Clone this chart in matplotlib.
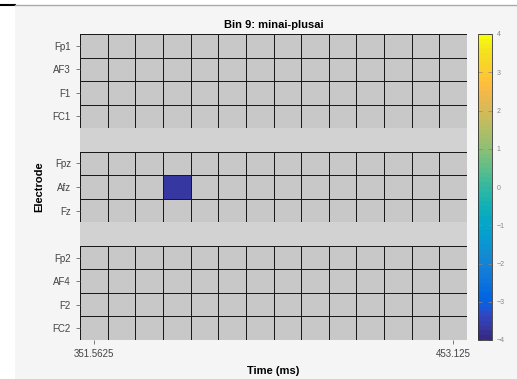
import numpy as np
import matplotlib
matplotlib.use("Agg")
import matplotlib.pyplot as plt
from matplotlib.colors import ListedColormap
from matplotlib.patches import Rectangle
from matplotlib.lines import Line2D

plt.rcParams['font.family'] = ['Liberation Sans', 'DejaVu Sans']

# ---- data ----
title = "Bin 9: minai-plusai"
groups = [["Fp1", "AF3", "F1", "FC1"],
          ["Fpz", "Afz", "Fz"],
          ["Fp2", "AF4", "F2", "FC2"]]
t_start = 351.5625
t_step = 7.8125
n_times = 14
times = t_start + t_step * np.arange(n_times)
# significant cells: (electrode, time, value); all other cells non-significant (grey)
sig_electrodes = ["Afz"]
sig_times = [375.0]
sig_values = [-3.7]
clim = (-4, 4)

# ---- parula colormap (MATLAB, 64 entries) ----
parula_data = [
    (0.2081, 0.1663, 0.5292), (0.2116, 0.1898, 0.5777), (0.2123, 0.2138, 0.6270),
    (0.2081, 0.2386, 0.6771), (0.1959, 0.2645, 0.7279), (0.1707, 0.2919, 0.7792),
    (0.1253, 0.3242, 0.8303), (0.0591, 0.3598, 0.8683), (0.0117, 0.3875, 0.8820),
    (0.0060, 0.4086, 0.8828), (0.0165, 0.4266, 0.8786), (0.0329, 0.4430, 0.8720),
    (0.0498, 0.4586, 0.8641), (0.0629, 0.4737, 0.8554), (0.0723, 0.4887, 0.8467),
    (0.0779, 0.5040, 0.8384), (0.0793, 0.5200, 0.8312), (0.0749, 0.5375, 0.8263),
    (0.0641, 0.5570, 0.8240), (0.0488, 0.5772, 0.8228), (0.0343, 0.5966, 0.8199),
    (0.0265, 0.6137, 0.8135), (0.0239, 0.6287, 0.8038), (0.0231, 0.6418, 0.7913),
    (0.0228, 0.6535, 0.7768), (0.0267, 0.6642, 0.7607), (0.0384, 0.6743, 0.7436),
    (0.0590, 0.6838, 0.7254), (0.0843, 0.6928, 0.7062), (0.1133, 0.7015, 0.6859),
    (0.1453, 0.7098, 0.6646), (0.1801, 0.7177, 0.6424), (0.2178, 0.7250, 0.6193),
    (0.2586, 0.7317, 0.5954), (0.3022, 0.7376, 0.5712), (0.3482, 0.7424, 0.5473),
    (0.3953, 0.7459, 0.5244), (0.4420, 0.7481, 0.5033), (0.4871, 0.7491, 0.4840),
    (0.5300, 0.7491, 0.4661), (0.5709, 0.7485, 0.4494), (0.6099, 0.7473, 0.4337),
    (0.6473, 0.7456, 0.4188), (0.6834, 0.7435, 0.4044), (0.7184, 0.7411, 0.3905),
    (0.7525, 0.7384, 0.3768), (0.7858, 0.7356, 0.3633), (0.8185, 0.7327, 0.3498),
    (0.8507, 0.7299, 0.3360), (0.8824, 0.7274, 0.3217), (0.9139, 0.7258, 0.3063),
    (0.9450, 0.7261, 0.2886), (0.9739, 0.7314, 0.2666), (0.9938, 0.7455, 0.2403),
    (0.9990, 0.7653, 0.2164), (0.9955, 0.7861, 0.1967), (0.9880, 0.8066, 0.1794),
    (0.9789, 0.8271, 0.1633), (0.9697, 0.8481, 0.1475), (0.9626, 0.8705, 0.1309),
    (0.9589, 0.8949, 0.1132), (0.9598, 0.9218, 0.0948), (0.9661, 0.9514, 0.0755),
    (0.9763, 0.9831, 0.0538),
]
parula = ListedColormap(parula_data, name="parula")
parula.set_bad("#c8c8c8")

# ---- build row layout ----
row_labels = []
gap_rows = []
for gi, g in enumerate(groups):
    if gi > 0:
        gap_rows.append(len(row_labels))
        row_labels.append("")
    row_labels.extend(g)
n_rows = len(row_labels)

W, H = 517, 379
fig = plt.figure(figsize=(W / 100, H / 100), dpi=100)
fig.patch.set_facecolor("white")
fig.add_artist(Rectangle((15 / W, 0), 1 - 15 / W, 1 - 6 / H, transform=fig.transFigure,
                         facecolor="#f5f5f5", edgecolor="none", zorder=-10))
fig.add_artist(Line2D([0, 15 / W], [1 - 5 / H] * 2, transform=fig.transFigure, color="black", lw=1.5))
fig.add_artist(Line2D([15 / W, 1], [1 - 5 / H] * 2, transform=fig.transFigure, color="#aaaaaa", lw=1.0))

ax = fig.add_axes([80 / W, 1 - 340 / H, (467 - 80) / W, (340 - 34) / H])
ax.set_facecolor("#c8c8c8")

x_edges = np.concatenate([times - t_step / 2, [times[-1] + t_step / 2]])

mesh = None
start = 0
for gi, g in enumerate(groups):
    vals = np.full((len(g), n_times), np.nan)
    for e, t, v in zip(sig_electrodes, sig_times, sig_values):
        if e in g:
            r = g.index(e)
            c = int(np.argmin(np.abs(times - t)))
            vals[r, c] = v
    y_edges = np.arange(start, start + len(g) + 1) - 0.5
    mesh = ax.pcolormesh(x_edges, y_edges, np.ma.masked_invalid(vals), cmap=parula,
                         vmin=clim[0], vmax=clim[1], edgecolors="#1a1a1a", linewidth=0.6)
    start += len(g) + 1

for gr in gap_rows:
    ax.axhspan(gr - 0.5, gr + 0.5, facecolor="#d2d2d2", edgecolor="none")

ax.set_xlim(x_edges[0], x_edges[-1])
ax.set_ylim(n_rows - 0.5, -0.5)
for s in ax.spines.values():
    s.set_visible(False)

ytick_pos = [i for i, l in enumerate(row_labels) if l]
ax.set_yticks(ytick_pos)
ax.set_yticklabels([row_labels[i] for i in ytick_pos])
ax.set_xticks([times[0], times[-1]])
ax.set_xticklabels(["351.5625", "453.125"])
ax.tick_params(axis="both", labelsize=7, colors="#666666", length=3, width=0.6)
ax.tick_params(axis="both", labelcolor="#444444")

ax.set_title(title, fontsize=8, fontweight="bold", pad=4)
ax.set_xlabel("Time (ms)", fontsize=8, fontweight="bold", labelpad=5)
ax.set_ylabel("Electrode", fontsize=8, fontweight="bold", labelpad=6)

cax = fig.add_axes([478 / W, 1 - 340 / H, 14 / W, (340 - 34) / H])
cb = fig.colorbar(mesh, cax=cax)
cb.set_ticks(np.arange(clim[0], clim[1] + 1))
cb.ax.tick_params(labelsize=5, colors="#888888", direction="in", length=3, width=0.5,
                  left=True, right=True)
cb.outline.set_edgecolor("#333333")
cb.outline.set_linewidth(0.6)

fig.savefig("out.png", dpi=100)
